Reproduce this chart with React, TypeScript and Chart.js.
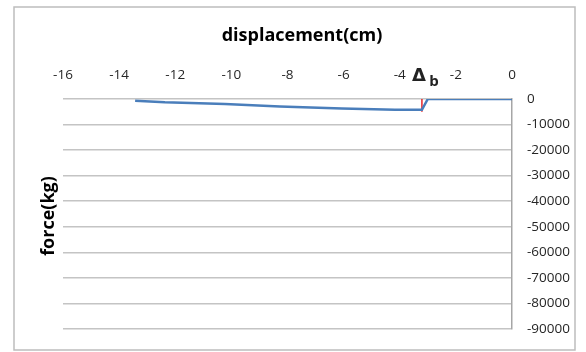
import React, { useEffect, useRef } from "react";
import { Chart, registerables } from "chart.js";

Chart.register(...registerables);

// ---- data ----
const xTickValues = [-16, -14, -12, -10, -8, -6, -4, -2, 0];
const yTickValues = [0, -10000, -20000, -30000, -40000, -50000, -60000, -70000, -80000, -90000];
const dispCm = [-13.43, -12.37, -10.23, -8.27, -6.06, -4.17, -3.21, -3.0, 0];
const forceKg = [-650, -1270, -1920, -2960, -3730, -4230, -4230, 0, 0];
const markerDisp = [-3.21, -3.21];
const markerForce = [0, -5000];
const xTitle = "displacement(cm)";
const yTitle = "force(kg)";
const deltaLabel = "Δ";
const deltaSub = "b";

const W = 586;
const H = 352;

const annotations = {
  id: "annotations",
  afterDraw(chart: any) {
    const ctx = chart.ctx as CanvasRenderingContext2D;
    ctx.save();
    // outer frame
    ctx.strokeStyle = "#bdbdbd";
    ctx.lineWidth = 1.5;
    ctx.strokeRect(14, 7, 561, 343);
    // titles
    ctx.fillStyle = "#000";
    ctx.textAlign = "center";
    ctx.textBaseline = "middle";
    ctx.font = "bold 18px 'Open Sans'";
    ctx.fillText(xTitle, 302, 36);
    ctx.save();
    ctx.translate(49, 216);
    ctx.rotate(-Math.PI / 2);
    ctx.fillText(yTitle, 0, 0);
    ctx.restore();
    // delta_b label
    const xs = chart.scales.x;
    const px = xs.getPixelForValue(markerDisp[0]);
    ctx.font = "bold 18px 'DejaVu Sans'";
    ctx.fillStyle = "#222";
    ctx.textAlign = "center";
    ctx.textBaseline = "alphabetic";
    ctx.fillText(deltaLabel, px - 3, 81);
    ctx.font = "bold 15px 'Open Sans'";
    ctx.fillText(deltaSub, px + 12, 86);
    ctx.restore();
  },
};

export default function App() {
  const ref = useRef<HTMLCanvasElement | null>(null);
  useEffect(() => {
    if (!ref.current) return;
    const tickFont = { family: "'Open Sans'", size: 13.5 };
    const chart = new Chart(ref.current, {
      type: "scatter",
      data: {
        datasets: [
          {
            data: dispCm.map((x, i) => ({ x, y: forceKg[i] })),
            showLine: true,
            borderColor: "#4a7ebb",
            borderWidth: 2.5,
            pointRadius: 0,
            tension: 0,
          },
          {
            data: markerDisp.map((x, i) => ({ x, y: markerForce[i] })),
            showLine: true,
            borderColor: "#e8262b",
            borderWidth: 1.5,
            pointRadius: 0,
          },
        ],
      },
      options: {
        responsive: false,
        animation: false,
        devicePixelRatio: 1,
        layout: { padding: { left: 63, top: 0, right: 0, bottom: 19 } },
        plugins: { legend: { display: false }, tooltip: { enabled: false }, title: { display: false } },
        scales: {
          x: {
            type: "linear",
            position: "top",
            min: -16,
            max: 0,
            afterBuildTicks: (s: any) => {
              s.ticks = xTickValues.map((v) => ({ value: v }));
            },
            ticks: {
              font: tickFont,
              color: "#262626",
              padding: 16,
              maxRotation: 0,
              autoSkip: false,
              callback: (v: any) => String(v),
            },
            grid: { display: false, drawTicks: false },
            border: { display: false },
            afterFit: (s: any) => {
              s.height = 99;
            },
          },
          y: {
            type: "linear",
            position: "right",
            min: -90000,
            max: 0,
            afterBuildTicks: (s: any) => {
              s.ticks = yTickValues.map((v) => ({ value: v }));
            },
            ticks: {
              font: tickFont,
              color: "#262626",
              padding: 15,
              autoSkip: false,
              callback: (v: any) => String(v),
            },
            grid: { color: "#c4c4c4", lineWidth: 1.5, drawTicks: false },
            border: { display: true, color: "#a6a6a6", width: 1.5 },
            afterFit: (s: any) => {
              s.width = 74;
            },
          },
        },
      },
      plugins: [annotations],
    } as any);
    return () => chart.destroy();
  }, []);
  return (
    <div style={{ position: "fixed", left: 0, top: 0, width: W, height: H, background: "#fff" }}>
      <canvas ref={ref} width={W} height={H} style={{ display: "block", width: W, height: H }} />
    </div>
  );
}
